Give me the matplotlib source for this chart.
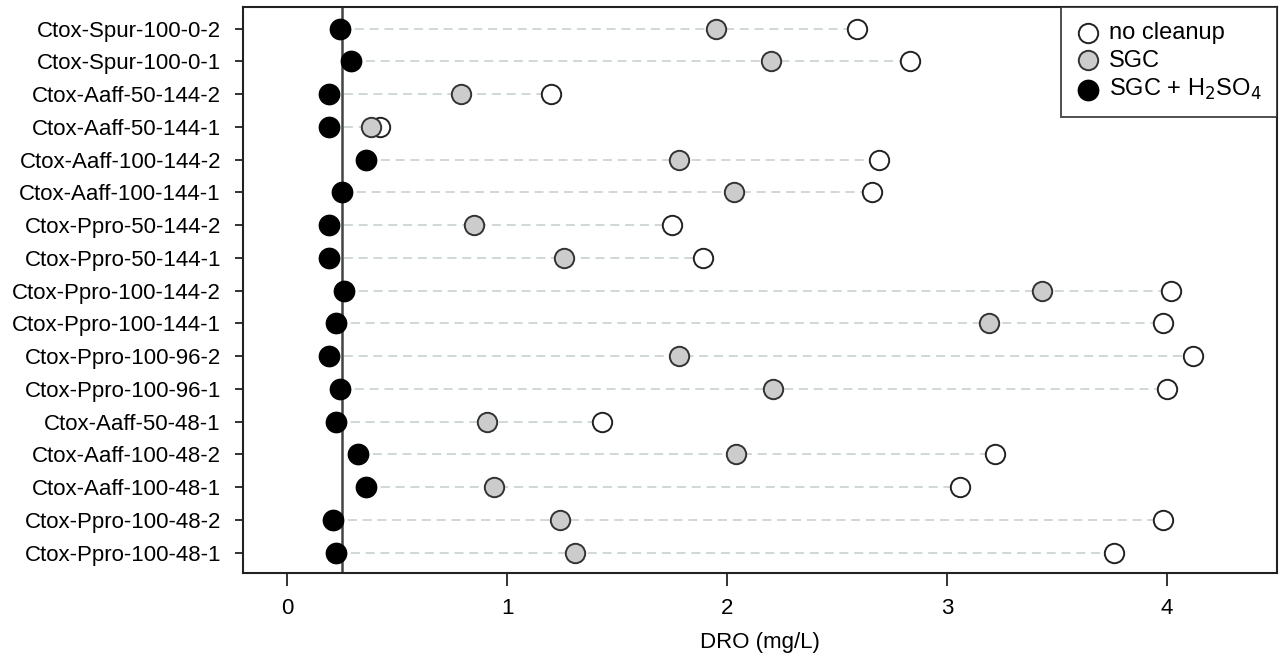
# DRO dot plot: no cleanup / SGC / SGC + H2SO4

import matplotlib
matplotlib.use("Agg")
import matplotlib.pyplot as plt

plt.rcParams['font.family'] = ['Liberation Sans', 'DejaVu Sans']

# 시료 이름 (위에서 아래 순서)
samples = [
    "Ctox-Spur-100-0-2", "Ctox-Spur-100-0-1",
    "Ctox-Aaff-50-144-2", "Ctox-Aaff-50-144-1",
    "Ctox-Aaff-100-144-2", "Ctox-Aaff-100-144-1",
    "Ctox-Ppro-50-144-2", "Ctox-Ppro-50-144-1",
    "Ctox-Ppro-100-144-2", "Ctox-Ppro-100-144-1",
    "Ctox-Ppro-100-96-2", "Ctox-Ppro-100-96-1",
    "Ctox-Aaff-50-48-1", "Ctox-Aaff-100-48-2",
    "Ctox-Aaff-100-48-1", "Ctox-Ppro-100-48-2",
    "Ctox-Ppro-100-48-1",
]
no_cleanup = [2.59, 2.83, 1.20, 0.42, 2.69, 2.66, 1.75, 1.89, 4.02, 3.98,
              4.12, 4.00, 1.43, 3.22, 3.06, 3.98, 3.76]
sgc = [1.95, 2.20, 0.79, 0.38, 1.78, 2.03, 0.85, 1.26, 3.43, 3.19,
       1.78, 2.21, 0.91, 2.04, 0.94, 1.24, 1.31]
sgc_h2so4 = [0.24, 0.29, 0.19, 0.19, 0.36, 0.25, 0.19, 0.19, 0.26, 0.22,
             0.19, 0.24, 0.22, 0.32, 0.36, 0.21, 0.22]
ref_line = 0.25

n = len(samples)
ypos = [n - i for i in range(n)]

fig = plt.figure(figsize=(12.8, 6.53), dpi=100)
ax = fig.add_axes([0.19, 0.1225, 0.8077, 0.8668])

# 점선 (최소값 ~ 최대값)
for y, a, b, c in zip(ypos, no_cleanup, sgc, sgc_h2so4):
    lo = min(a, b, c)
    hi = max(a, b, c)
    ax.plot([lo, hi], [y, y], color="#cbd5d3", lw=1.3, dashes=(5, 3.2), zorder=1)

ax.axvline(ref_line, color="#444444", lw=1.8, zorder=2)

ms = 195
ax.scatter(no_cleanup, ypos, s=ms, facecolor="white", edgecolor="#222222",
           linewidth=1.4, zorder=3, label="no cleanup")
ax.scatter(sgc, ypos, s=ms, facecolor="#cccccc", edgecolor="#333333",
           linewidth=1.4, zorder=4, label="SGC")
ax.scatter(sgc_h2so4, ypos, s=ms + 20, facecolor="black", edgecolor="black",
           linewidth=1.0, zorder=5, label="SGC + H$_2$SO$_4$")

ax.set_xlim(-0.2, 4.5)
ax.set_ylim(0.38, 17.66)
ax.set_yticks(ypos)
ax.set_yticklabels(samples, fontsize=16)
ax.set_xticks([0, 1, 2, 3, 4])
ax.tick_params(axis="x", labelsize=16, length=9, width=1.4, pad=9, color="#333333")
ax.tick_params(axis="y", length=6, width=1.4, pad=10, color="#333333")
for sp in ax.spines.values():
    sp.set_linewidth(1.5)
    sp.set_color("#222222")

ax.set_xlabel("DRO (mg/L)", fontsize=16, labelpad=9)

leg = ax.legend(loc="upper right", fontsize=17, frameon=True, fancybox=False,
                edgecolor="#222222", borderaxespad=0, handletextpad=0.4,
                labelspacing=0.22, borderpad=0.65, handlelength=1.0)
leg.get_frame().set_linewidth(1.4)

plt.savefig("out.png", dpi=100)
